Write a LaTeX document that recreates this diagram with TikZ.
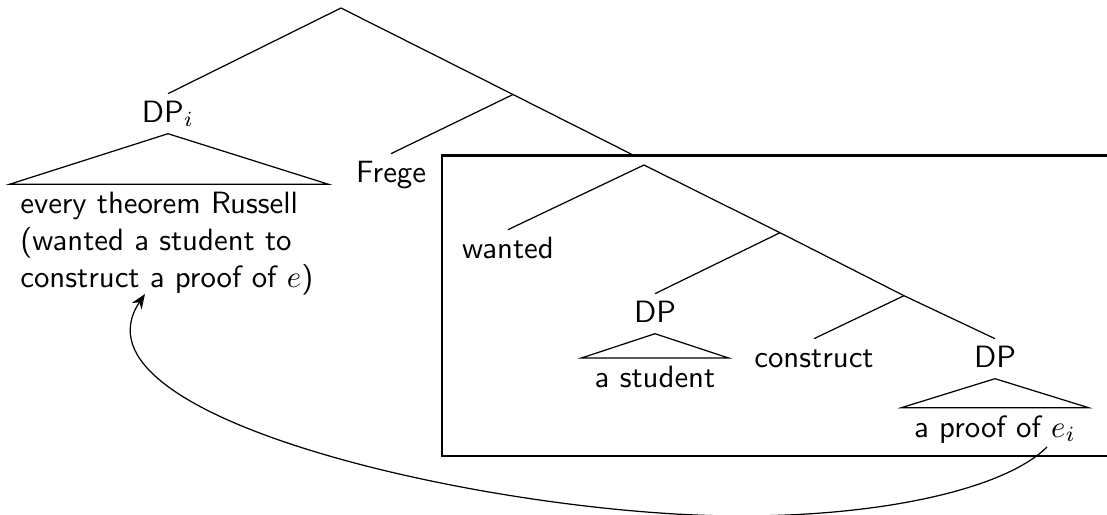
\documentclass[tikz,border=0pt]{standalone}
\usepackage{amsmath}
\usepackage{tikz}
\usetikzlibrary{arrows.meta}

\begin{document}
\begin{tikzpicture}[
  x=0.3247pt, y=-0.3247pt,
  font=\sffamily,
  cat/.style={inner sep=2pt, text height=7pt, text depth=1.6pt, anchor=base},
  leaf/.style={inner xsep=0pt, inner ysep=2.4pt, text height=7pt, text depth=1.6pt, anchor=north},
  branch/.style={line width=0.4pt},
  movement/.style={-{Stealth[length=4.8pt,width=3.8pt]}, line width=0.4pt}
]
  \useasboundingbox (0,0) rectangle (1107,515);
  \clip (0,0) rectangle (1107,515);

  % branching points
  \coordinate (root) at (341,8);
  \coordinate (xbar) at (513,94.5);
  \coordinate (vptop) at (634,155.5);
  \coordinate (vp) at (644,165);
  \coordinate (vbar) at (780,232.7);
  \coordinate (vlow) at (904,295.7);

  % labels
  \node[cat] (dpi) at (168,122) {DP$_i$};
  \node[cat] (frege) at (391,182) {Frege};
  \node[cat] (wanted) at (508,258) {wanted};
  \node[cat] (dpa) at (655,322) {DP};
  \node[cat] (construct) at (814,367) {construct};
  \node[cat] (dpb) at (995,367) {DP};

  % material under the roofs
  \node[anchor=north, align=left, text width=96.5pt, inner xsep=3.35pt, inner ysep=2.4pt] (every) at (169,184.3)
    {every theorem Russell\\(wanted a student to\\construct a proof of $e$)};
  \node[leaf, minimum width=47.4pt] (student) at (655,358) {a student};
  \node[leaf, minimum width=60.4pt] (proof) at (995,407.7) {a proof of $e_i$};

  % the boxed part
  \draw[line width=0.8pt] (442,155.5) rectangle (1130,456);

  % branches
  \draw[branch] (root) -- (dpi.north);
  \draw[branch] (root) -- (xbar) -- (vptop);
  \draw[branch] (xbar) -- (frege.north);
  \draw[branch] (vp) -- (wanted.north);
  \draw[branch] (vp) -- (vbar) -- (vlow) -- (dpb.north);
  \draw[branch] (vbar) -- (dpa.north);
  \draw[branch] (vlow) -- (construct.north);

  % roofs
  \draw[branch] (dpi.south) -- (every.north west) -- (every.north east) -- cycle;
  \draw[branch] (dpa.south) -- (student.north west) -- (student.north east) -- cycle;
  \draw[branch] (dpb.south) -- (proof.north west) -- (proof.north east) -- cycle;

  % movement of the DP
  \coordinate (trace) at (1047,447);
  \coordinate (low) at (740,516);
  \coordinate (landing) at (145,294);
  \draw[movement] (trace) .. controls (1007,487) and (890,516) .. (low)
    .. controls (500,516) and (60,420) .. (landing);
\end{tikzpicture}
\end{document}
